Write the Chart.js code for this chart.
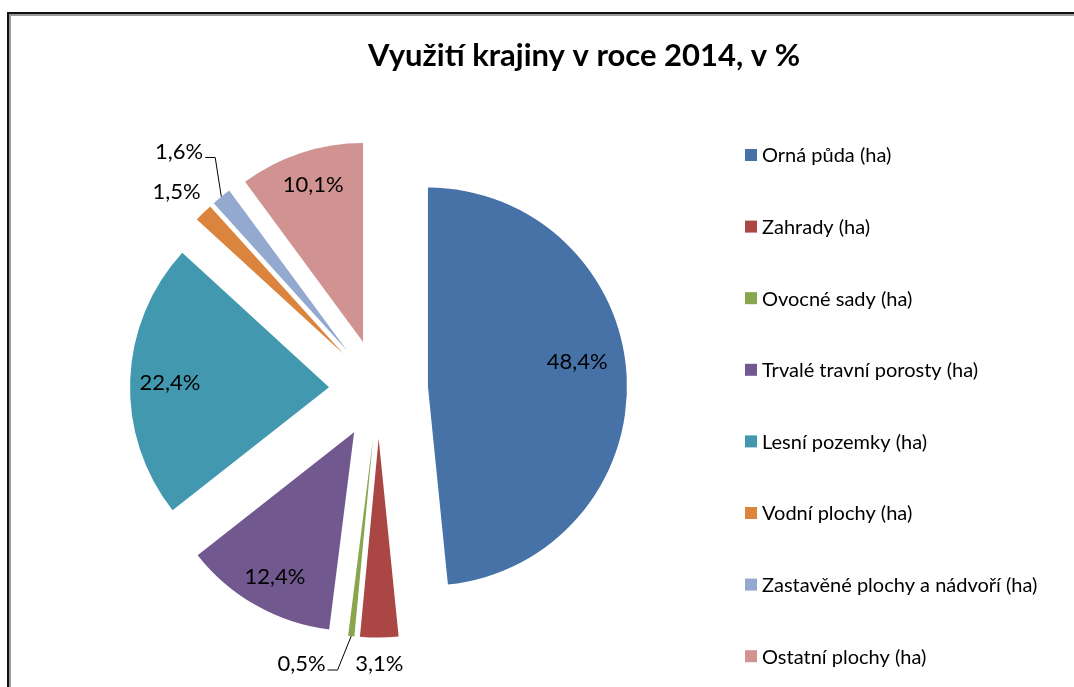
<!DOCTYPE html>
<html>
<head>
<meta charset="utf-8">
<script src="https://cdn.jsdelivr.net/npm/chart.js@4.4.1/dist/chart.umd.min.js"></script>
<style>
  html, body { margin: 0; padding: 0; background: #fff; width: 1074px; height: 687px; overflow: hidden; position: relative; }
  #frame  { position: absolute; left: 7px; top: 12px; width: 1200px; height: 800px; border-left: 2px solid #111; border-top: 2px solid #111; }
  #frame2 { position: absolute; left: 9px; top: 14px; width: 1200px; height: 800px; border-left: 2px solid #9a9a9a; border-top: 2px solid #9a9a9a; }
  #wrap   { position: absolute; left: 94px; top: 0; width: 980px; height: 687px; }
</style>
</head>
<body>
<div id="frame"></div><div id="frame2"></div>
<div id="wrap"><canvas id="c" width="980" height="687"></canvas></div>
<script>
// ---- data ----
const chartTitle = 'Využití krajiny v roce 2014, v %';
const categories = [
  'Orná půda (ha)',
  'Zahrady (ha)',
  'Ovocné sady (ha)',
  'Trvalé travní porosty (ha)',
  'Lesní pozemky (ha)',
  'Vodní plochy (ha)',
  'Zastavěné plochy a nádvoří (ha)',
  'Ostatní plochy (ha)'
];
const shares = [48.4, 3.1, 0.5, 12.4, 22.4, 1.5, 1.6, 10.1];
const sliceColors = ['#4672A7', '#AA4643', '#89A54E', '#71588F', '#4198AF', '#DB843D', '#93A9CF', '#D19392'];

const fmtPct = v => v.toFixed(1).replace('.', ',') + '%';

// draws each slice pulled out along its bisector (exploded pie)
const explodePlugin = {
  id: 'explode',
  beforeDatasetDraw(chart, args, opts) {
    const ctx = chart.ctx;
    const d = opts.distance || 0;
    args.meta.data.forEach(arc => {
      const mid = (arc.startAngle + arc.endAngle) / 2;
      ctx.save();
      ctx.translate(Math.cos(mid) * d, Math.sin(mid) * d);
      arc.draw(ctx);
      ctx.restore();
    });
    return false;
  }
};

// percentage labels, placed relative to each exploded slice
const sliceLabelPlugin = {
  id: 'sliceLabels',
  afterDatasetsDraw(chart, args, opts) {
    const ctx = chart.ctx;
    const meta = chart.getDatasetMeta(0);
    const d = chart.options.plugins.explode.distance;
    const values = chart.data.datasets[0].data;
    ctx.save();
    ctx.font = opts.font;
    ctx.fillStyle = opts.color;
    ctx.strokeStyle = opts.lineColor;
    ctx.lineWidth = 1;
    ctx.textAlign = 'center';
    ctx.textBaseline = 'middle';
    meta.data.forEach((arc, i) => {
      const p = opts.placement[i];
      const mid = (arc.startAngle + arc.endAngle) / 2;
      const ax = arc.x + Math.cos(mid) * d;
      const ay = arc.y + Math.sin(mid) * d;
      const R = arc.outerRadius;
      const a = mid + p.da * Math.PI / 180;
      const lx = ax + Math.cos(a) * R * p.r;
      const ly = ay + Math.sin(a) * R * p.r;
      const text = fmtPct(values[i]);
      ctx.fillText(text, lx, ly);
      if (p.leader) {
        const w = ctx.measureText(text).width;
        const ex = lx + w / 2 + 2, ey = ly + 6;
        const bx = ex + 10;
        const sx = ax + Math.cos(mid) * R, sy = ay + Math.sin(mid) * R;
        ctx.beginPath();
        ctx.moveTo(ex, ey);
        ctx.lineTo(bx, ey);
        ctx.lineTo(sx, sy);
        ctx.stroke();
      }
    });
    ctx.restore();
  }
};

// legend as a right-hand layout box (one item per row)
const sideLegendPlugin = {
  id: 'sideLegend',
  beforeInit(chart, args, opts) {
    const box = {
      position: 'right',
      weight: 1000,
      fullSize: false,
      options: {},
      left: 0, top: 0, right: 0, bottom: 0, width: 0, height: 0,
      isHorizontal() { return false; },
      update(maxWidth, maxHeight) { this.width = opts.width; this.height = maxHeight; },
      draw() {
        const ctx = chart.ctx;
        const ds = chart.data.datasets[0];
        ctx.save();
        ctx.font = opts.font;
        ctx.textAlign = 'left';
        ctx.textBaseline = 'middle';
        chart.data.labels.forEach((lab, i) => {
          const x = this.left + opts.indent;
          const y = opts.y + i * opts.step;
          ctx.fillStyle = ds.backgroundColor[i];
          ctx.fillRect(x, y - opts.box / 2, opts.box, opts.box);
          ctx.fillStyle = opts.color;
          ctx.fillText(lab, x + opts.box + 5, y + 1);
        });
        ctx.restore();
      }
    };
    Chart.layouts.addBox(chart, box);
  }
};

new Chart(document.getElementById('c'), {
  type: 'pie',
  data: {
    labels: categories,
    datasets: [{
      data: shares,
      backgroundColor: sliceColors,
      borderWidth: 0,
      radius: 199
    }]
  },
  options: {
    responsive: false,
    animation: false,
    layout: { padding: 0 },
    plugins: {
      legend: { display: false },
      tooltip: { enabled: false },
      title: {
        display: true,
        text: chartTitle,
        color: '#000',
        font: { family: 'Lato', size: 31, weight: 'bold' },
        padding: { top: 37, bottom: 17 }
      },
      explode: { distance: 49.5 },
      sliceLabels: {
        font: '22px Lato',
        color: '#000',
        lineColor: '#000',
        placement: [
          { r: 0.76, da: -6.4 },
          { r: 1.13, da: 0 },
          { r: 1.19, da: 11.3, leader: true },
          { r: 0.83, da: -0.9 },
          { r: 0.80, da: -0.7 },
          { r: 1.17, da: -1 },
          { r: 1.31, da: -0.9, leader: true },
          { r: 0.83, da: 0.6 }
        ]
      },
      sideLegend: {
        width: 411, indent: 82, y: 155, step: 71.6, box: 12,
        font: '20px Lato', color: '#000'
      }
    }
  },
  plugins: [explodePlugin, sliceLabelPlugin, sideLegendPlugin]
});
</script>
</body>
</html>
